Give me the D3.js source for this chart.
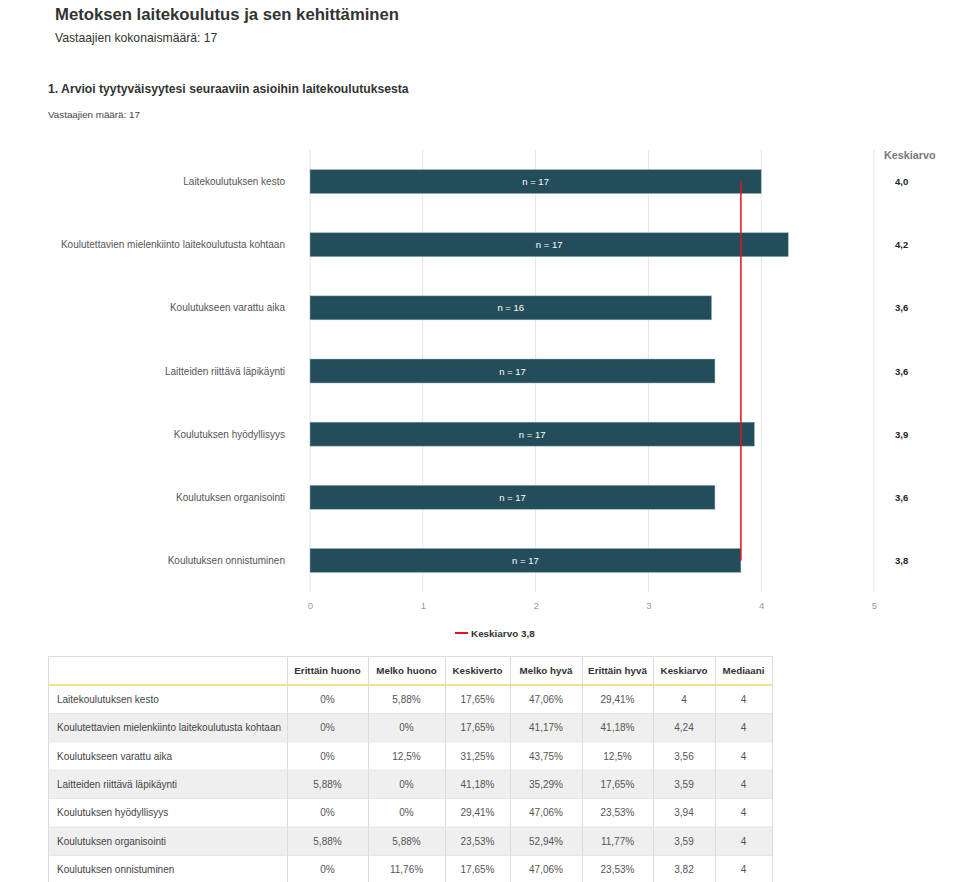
<!DOCTYPE html>
<html>
<head>
<meta charset="utf-8">
<script src="https://cdn.jsdelivr.net/npm/d3@7"></script>
<style>
  body { margin: 0; background: #fff; font-family: "Liberation Sans", Arial, sans-serif; }
  svg text { font-family: "Liberation Sans", Arial, sans-serif; }
</style>
</head>
<body>
<svg id="chart" width="973" height="882"></svg>
<script>
const categories = [
    'Laitekoulutuksen kesto',
    'Koulutettavien mielenkiinto laitekoulutusta kohtaan',
    'Koulutukseen varattu aika',
    'Laitteiden riittävä läpikäynti',
    'Koulutuksen hyödyllisyys',
    'Koulutuksen organisointi',
    'Koulutuksen onnistuminen'
];
const means = [4, 4.24, 3.56, 3.59, 3.94, 3.59, 3.82];
const counts = [17, 17, 16, 17, 17, 17, 17];
const overallMean = 3.82;
const xTicks = [0, 1, 2, 3, 4, 5];

const tableHeaders = ['Erittäin huono', 'Melko huono', 'Keskiverto', 'Melko hyvä', 'Erittäin hyvä', 'Keskiarvo', 'Mediaani'];
const erittainHuono = ['0%', '0%', '0%', '5,88%', '0%', '5,88%', '0%'];
const melkoHuono = ['5,88%', '0%', '12,5%', '0%', '0%', '5,88%', '11,76%'];
const keskiverto = ['17,65%', '17,65%', '31,25%', '41,18%', '29,41%', '23,53%', '17,65%'];
const melkoHyva = ['47,06%', '41,17%', '43,75%', '35,29%', '47,06%', '52,94%', '47,06%'];
const erittainHyva = ['29,41%', '41,18%', '12,5%', '17,65%', '23,53%', '11,77%', '23,53%'];
const medians = [4, 4, 4, 4, 4, 4, 4];

const fmt = v => d3.format('.1f')(v).replace('.', ',');
const fmtTable = v => String(v).replace('.', ',');

const svg = d3.select('#chart');

// headings
svg.append('text').attr('x', 55).attr('y', 20)
    .attr('font-size', 16.7).attr('font-weight', 'bold').attr('fill', '#333')
    .text('Metoksen laitekoulutus ja sen kehittäminen');
svg.append('text').attr('x', 55).attr('y', 42)
    .attr('font-size', 12.2).attr('fill', '#333')
    .text('Vastaajien kokonaismäärä: 17');
svg.append('text').attr('x', 48).attr('y', 93)
    .attr('font-size', 12.2).attr('font-weight', 'bold').attr('fill', '#333')
    .text('1. Arvioi tyytyväisyytesi seuraaviin asioihin laitekoulutuksesta');
svg.append('text').attr('x', 48).attr('y', 118)
    .attr('font-size', 9.8).attr('fill', '#444')
    .text('Vastaajien määrä: 17');

// bar chart
const x = d3.scaleLinear().domain([0, 5]).range([310, 874]);
const y = d3.scaleBand().domain(categories).range([150, 592]).paddingInner(0.62).paddingOuter(0.31);

const g = svg.append('g');

g.append('g').selectAll('line')
    .data(xTicks)
    .enter().append('line')
    .attr('x1', d => x(d)).attr('x2', d => x(d))
    .attr('y1', 150).attr('y2', 592)
    .attr('stroke', '#e6e6e6').attr('stroke-width', 1);

const xAxis = g.append('g')
    .attr('transform', 'translate(0,592)')
    .call(d3.axisBottom(x).tickValues(xTicks).tickSize(0).tickPadding(10).tickFormat(d3.format('d')));
xAxis.select('.domain').remove();
xAxis.selectAll('text').attr('font-size', 9.5).attr('fill', '#999');

g.append('g').selectAll('rect')
    .data(categories)
    .enter().append('rect')
    .attr('x', x(0))
    .attr('y', d => y(d))
    .attr('width', (d, i) => x(means[i]) - x(0))
    .attr('height', y.bandwidth())
    .attr('fill', '#244d5b')
    .attr('stroke', '#9bb7c2').attr('stroke-width', 0.5);

g.append('g').selectAll('text')
    .data(categories)
    .enter().append('text')
    .attr('x', (d, i) => (x(0) + x(means[i])) / 2)
    .attr('y', d => y(d) + y.bandwidth() / 2 + 3.5)
    .attr('text-anchor', 'middle')
    .attr('font-size', 9.5).attr('fill', '#fff')
    .text((d, i) => 'n = ' + counts[i]);

g.append('g').selectAll('text')
    .data(categories)
    .enter().append('text')
    .attr('x', 285)
    .attr('y', d => y(d) + y.bandwidth() / 2 + 3.5)
    .attr('text-anchor', 'end')
    .attr('font-size', 10).attr('fill', '#555')
    .text(d => d);

// mean line
g.append('line')
    .attr('x1', x(overallMean)).attr('x2', x(overallMean))
    .attr('y1', y(categories[0]) + y.bandwidth() / 2)
    .attr('y2', y(categories[categories.length - 1]) + y.bandwidth() / 2)
    .attr('stroke', '#e3121b').attr('stroke-width', 1.5);

// Keskiarvo column
g.append('text').attr('x', 884).attr('y', 159)
    .attr('font-size', 10.8).attr('font-weight', 'bold').attr('fill', '#777')
    .text('Keskiarvo');
g.append('g').selectAll('text')
    .data(categories)
    .enter().append('text')
    .attr('x', 895)
    .attr('y', d => y(d) + y.bandwidth() / 2 + 3.5)
    .attr('font-size', 9.5).attr('font-weight', 'bold').attr('fill', '#222')
    .text((d, i) => fmt(means[i]));

// legend
svg.append('line').attr('x1', 455).attr('x2', 468).attr('y1', 633).attr('y2', 633)
    .attr('stroke', '#e3121b').attr('stroke-width', 2);
svg.append('text').attr('x', 471).attr('y', 636.5)
    .attr('font-size', 9.9).attr('font-weight', 'bold').attr('fill', '#333')
    .text('Keskiarvo ' + fmt(overallMean));

// table
const colEdges = [48, 287, 368, 445, 510, 582, 653, 715, 772];
const tTop = 656, headH = 29, rowH = 28.4;
const columns = [erittainHuono, melkoHuono, keskiverto, melkoHyva, erittainHyva, means.map(fmtTable), medians];
const tg = svg.append('g');

tg.append('g').selectAll('rect')
    .data(categories)
    .enter().append('rect')
    .attr('x', colEdges[0]).attr('width', colEdges[8] - colEdges[0])
    .attr('y', (d, i) => tTop + headH + i * rowH).attr('height', rowH)
    .attr('fill', (d, i) => i % 2 === 1 ? '#efefef' : '#fff');

// outer frame and grid
tg.append('rect').attr('x', colEdges[0] + 0.5).attr('y', tTop + 0.5)
    .attr('width', colEdges[8] - colEdges[0]).attr('height', headH + rowH * categories.length)
    .attr('fill', 'none').attr('stroke', '#dcdcdc');
tg.append('g').selectAll('line')
    .data(colEdges.slice(1, 8))
    .enter().append('line')
    .attr('x1', d => d + 0.5).attr('x2', d => d + 0.5)
    .attr('y1', tTop).attr('y2', tTop + headH + rowH * categories.length)
    .attr('stroke', '#dcdcdc');
tg.append('g').selectAll('line')
    .data(d3.range(1, categories.length))
    .enter().append('line')
    .attr('x1', colEdges[0]).attr('x2', colEdges[8])
    .attr('y1', i => tTop + headH + i * rowH).attr('y2', i => tTop + headH + i * rowH)
    .attr('stroke', '#e4e4e4');
tg.append('line')
    .attr('x1', colEdges[0]).attr('x2', colEdges[8])
    .attr('y1', tTop + headH).attr('y2', tTop + headH)
    .attr('stroke', '#f2d56b').attr('stroke-width', 1.5);

tg.append('g').selectAll('text')
    .data(tableHeaders)
    .enter().append('text')
    .attr('x', (d, i) => (colEdges[i + 1] + colEdges[i + 2]) / 2)
    .attr('y', tTop + headH / 2 + 3.5)
    .attr('text-anchor', 'middle')
    .attr('font-size', 9.8).attr('font-weight', 'bold').attr('fill', '#333')
    .text(d => d);

tg.append('g').selectAll('text')
    .data(categories)
    .enter().append('text')
    .attr('x', 57)
    .attr('y', (d, i) => tTop + headH + i * rowH + rowH / 2 + 3.5)
    .attr('font-size', 10).attr('fill', '#444')
    .text(d => d);

columns.forEach((col, c) => {
    tg.append('g').selectAll('text')
        .data(col)
        .enter().append('text')
        .attr('x', (colEdges[c + 1] + colEdges[c + 2]) / 2)
        .attr('y', (d, i) => tTop + headH + i * rowH + rowH / 2 + 3.5)
        .attr('text-anchor', 'middle')
        .attr('font-size', 10).attr('fill', '#555')
        .text(d => d);
});
</script>
</body>
</html>
